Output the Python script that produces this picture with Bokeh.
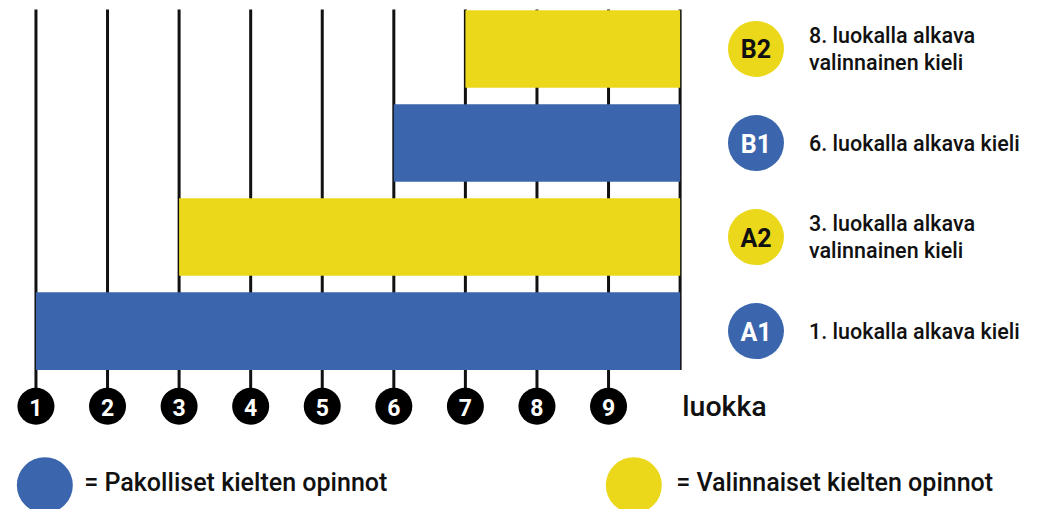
from bokeh.plotting import figure
from bokeh.models import ColumnDataSource, Range1d
from bokeh.core.properties import value
from bokeh.embed import file_html
from bokeh.resources import INLINE

# ---------------- data ----------------
levels = ["A1", "A2", "B1", "B2"]
start_grade = [1, 3, 6, 7]
end_grade = [10, 10, 10, 10]
kinds = ["pakollinen", "valinnainen", "pakollinen", "valinnainen"]
descriptions = [
    "1. luokalla alkava kieli",
    "3. luokalla alkava\nvalinnainen kieli",
    "6. luokalla alkava kieli",
    "8. luokalla alkava\nvalinnainen kieli",
]
grades = [1, 2, 3, 4, 5, 6, 7, 8, 9]
grid_grades = [1, 2, 3, 4, 5, 6, 7, 8, 9, 10]
axis_title = "luokka"
legend_labels = ["= Pakolliset kielten opinnot", "= Valinnaiset kielten opinnot"]

BLUE = "#3b66ad"
YELLOW = "#ebd81b"
INK = "#111111"
kind_color = {"pakollinen": BLUE, "valinnainen": YELLOW}
badge_text_color = {"pakollinen": "white", "valinnainen": INK}

FONT = value("Roboto Medium, Roboto")
FONT_B = value("Roboto")

# ---------------- figure ----------------
W, H = 1047, 509
p = figure(width=W, height=H, output_backend="svg", toolbar_location=None,
           min_border=0, min_border_left=0, min_border_right=0,
           min_border_top=0, min_border_bottom=0)
p.x_range = Range1d(0.5046, 15.133)
p.y_range = Range1d(-0.897, 4.5155)
p.axis.visible = False
p.grid.visible = False
p.outline_line_color = None
p.background_fill_color = "white"
p.border_fill_color = "white"

rows = list(range(1, len(levels) + 1))
axis_y = 0.201          # row of the numbered grade markers
bar_h = 0.825

# vertical grade lines
seg_bottom = [axis_y] * 9 + [1 - bar_h / 2]
p.segment(x0=grid_grades, x1=grid_grades, y0=seg_bottom, y1=[4.42] * len(grid_grades),
          line_color=INK, line_width=3)

# bars
src = ColumnDataSource(dict(
    y=rows, left=start_grade, right=end_grade,
    color=[kind_color[k] for k in kinds],
))
p.hbar(y="y", left="left", right="right", height=bar_h, fill_color="color",
       line_color=None, source=src)

# numbered grade markers
p.scatter(x=grades, y=[axis_y] * len(grades), size=37, fill_color="black", line_color=None)
p.text(x=grades, y=[axis_y] * len(grades), text=[str(g) for g in grades],
       text_align="center", text_baseline="middle", text_color="white",
       text_font=FONT_B, text_font_style="bold", text_font_size="23px", y_offset=1)
p.text(x=[10.03], y=[axis_y], text=[axis_title], text_align="left",
       text_baseline="middle", text_color=INK, text_font=FONT,
       text_font_size="28.5px")

# right-hand level badges
badge_x = 11.06
label_x = 11.80
p.scatter(x=[badge_x] * len(levels), y=rows, size=56,
          fill_color=[kind_color[k] for k in kinds], line_color=None)
p.text(x=[badge_x] * len(levels), y=rows, text=levels, text_align="center",
       text_baseline="middle", text_color=[badge_text_color[k] for k in kinds],
       text_font=FONT_B, text_font_style="bold", text_font_size="25px", y_offset=1)

for r, d in zip(rows, descriptions):
    lines = d.split("\n")
    n = len(lines)
    for i, ln in enumerate(lines):
        off = (i - (n - 1) / 2) * 27
        p.text(x=[label_x], y=[r], text=[ln], text_align="left", text_baseline="middle",
               text_color=INK, text_font=FONT, text_font_size="21.5px", y_offset=off)

# bottom legend
leg_x = [1.124, 9.353]
leg_text_x = [1.674, 9.945]
leg_y = -0.639
p.scatter(x=leg_x, y=[leg_y, leg_y], size=56,
          fill_color=[BLUE, YELLOW], line_color=None)
p.text(x=leg_text_x, y=[leg_y + 0.03] * 2, text=legend_labels, text_align="left",
       text_baseline="middle", text_color=INK, text_font=FONT, text_font_size="25px")

open("out.html", "w").write(file_html(p, INLINE))
